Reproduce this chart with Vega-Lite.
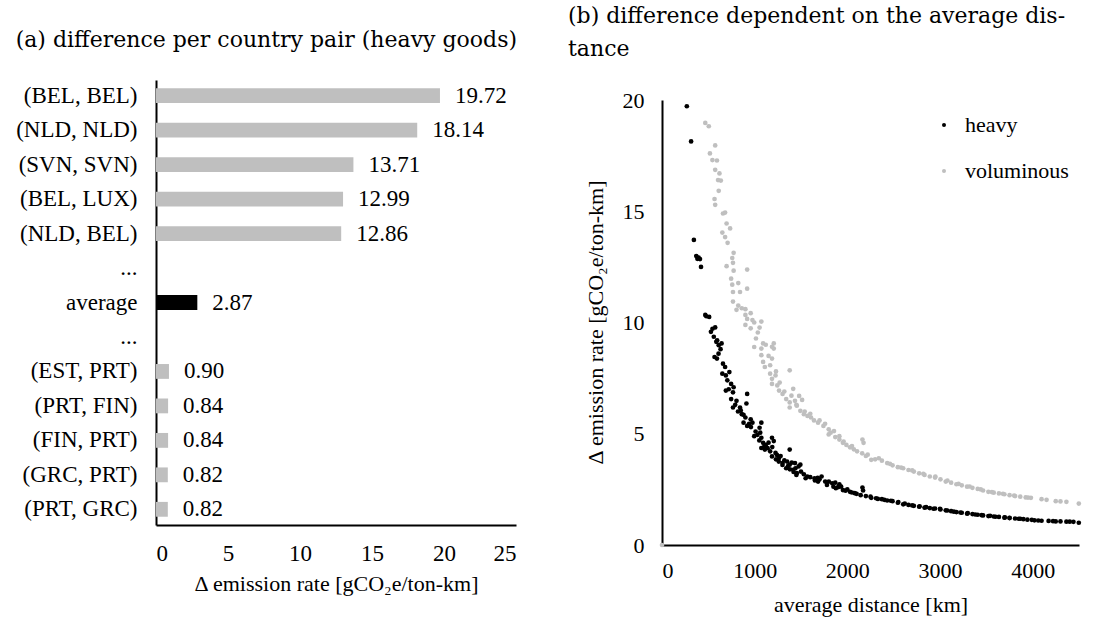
{
  "$schema": "https://vega.github.io/schema/vega-lite/v6.json",
  "padding": {"left": 15, "top": 5, "right": 5, "bottom": 5},
  "background": "white",
  "config": {
    "view": {"stroke": null},
    "font": "Liberation Serif, Times New Roman, serif",
    "axis": {"labelFont": "Liberation Serif, Times New Roman, serif", "titleFont": "Liberation Serif, Times New Roman, serif", "labelFontSize": 22, "titleFontSize": 22, "titleFontWeight": "normal", "labelColor": "black", "titleColor": "black", "domainColor": "black", "domainWidth": 2, "ticks": false, "grid": false},
    "title": {"font": "DejaVu Serif, serif", "fontSize": 22, "fontWeight": "normal", "anchor": "start", "frame": "bounds", "color": "black"},
    "legend": {"labelFont": "Liberation Serif, Times New Roman, serif", "labelFontSize": 22, "labelColor": "black"}
  },
  "resolve": {"scale": {"color": "independent"}, "legend": {"color": "independent"}},
  "datasets": {
    "bars": [
      {"pair": "(BEL, BEL)", "v": 19.72, "k": "pair", "t": "19.72"},
      {"pair": "(NLD, NLD)", "v": 18.14, "k": "pair", "t": "18.14"},
      {"pair": "(SVN, SVN)", "v": 13.71, "k": "pair", "t": "13.71"},
      {"pair": "(BEL, LUX)", "v": 12.99, "k": "pair", "t": "12.99"},
      {"pair": "(NLD, BEL)", "v": 12.86, "k": "pair", "t": "12.86"},
      {"pair": "average", "v": 2.87, "k": "avg", "t": "2.87"},
      {"pair": "(EST, PRT)", "v": 0.90, "k": "pair", "t": "0.90"},
      {"pair": "(PRT, FIN)", "v": 0.84, "k": "pair", "t": "0.84"},
      {"pair": "(FIN, PRT)", "v": 0.84, "k": "pair", "t": "0.84"},
      {"pair": "(GRC, PRT)", "v": 0.82, "k": "pair", "t": "0.82"},
      {"pair": "(PRT, GRC)", "v": 0.82, "k": "pair", "t": "0.82"}
    ],
    "pts": [
      {"d":0,"r":0,"g":"voluminous"},{"d":467,"r":18.97,"g":"voluminous"},{"d":505,"r":18.82,"g":"voluminous"},{"d":574,"r":17.96,"g":"voluminous"},{"d":517,"r":17.6,"g":"voluminous"},{"d":544,"r":17.3,"g":"voluminous"},{"d":593,"r":17.28,"g":"voluminous"},{"d":574,"r":16.86,"g":"voluminous"},
      {"d":620,"r":16.7,"g":"voluminous"},{"d":605,"r":16.4,"g":"voluminous"},{"d":635,"r":16.38,"g":"voluminous"},{"d":612,"r":15.92,"g":"voluminous"},{"d":567,"r":15.55,"g":"voluminous"},{"d":574,"r":15.29,"g":"voluminous"},{"d":658,"r":14.9,"g":"voluminous"},{"d":681,"r":14.94,"g":"voluminous"},
      {"d":697,"r":14.45,"g":"voluminous"},{"d":735,"r":14.23,"g":"voluminous"},{"d":651,"r":14.04,"g":"voluminous"},{"d":681,"r":13.84,"g":"voluminous"},{"d":708,"r":13.58,"g":"voluminous"},{"d":773,"r":13.13,"g":"voluminous"},{"d":758,"r":12.9,"g":"voluminous"},{"d":766,"r":12.68,"g":"voluminous"},
      {"d":697,"r":12.53,"g":"voluminous"},{"d":919,"r":12.38,"g":"voluminous"},{"d":773,"r":12.33,"g":"voluminous"},{"d":746,"r":11.97,"g":"voluminous"},{"d":823,"r":11.77,"g":"voluminous"},{"d":758,"r":11.7,"g":"voluminous"},{"d":919,"r":11.52,"g":"voluminous"},{"d":766,"r":11.37,"g":"voluminous"},
      {"d":842,"r":11.37,"g":"voluminous"},{"d":766,"r":10.94,"g":"voluminous"},{"d":823,"r":10.76,"g":"voluminous"},{"d":861,"r":10.64,"g":"voluminous"},{"d":900,"r":10.6,"g":"voluminous"},{"d":804,"r":10.57,"g":"voluminous"},{"d":900,"r":10.34,"g":"voluminous"},{"d":957,"r":10.42,"g":"voluminous"},
      {"d":919,"r":10.16,"g":"voluminous"},{"d":976,"r":10.11,"g":"voluminous"},{"d":1072,"r":10.04,"g":"voluminous"},{"d":900,"r":9.89,"g":"voluminous"},{"d":957,"r":9.74,"g":"voluminous"},{"d":995,"r":10.0,"g":"voluminous"},{"d":1053,"r":9.77,"g":"voluminous"},{"d":1034,"r":9.55,"g":"voluminous"},
      {"d":1014,"r":9.28,"g":"voluminous"},{"d":995,"r":8.9,"g":"voluminous"},{"d":1072,"r":8.83,"g":"voluminous"},{"d":1206,"r":8.83,"g":"voluminous"},{"d":1091,"r":9.06,"g":"voluminous"},{"d":1187,"r":8.91,"g":"voluminous"},{"d":1206,"r":9.06,"g":"voluminous"},{"d":1072,"r":8.53,"g":"voluminous"},
      {"d":1091,"r":8.23,"g":"voluminous"},{"d":1187,"r":8.38,"g":"voluminous"},{"d":1110,"r":8.0,"g":"voluminous"},{"d":1167,"r":8.08,"g":"voluminous"},{"d":1378,"r":7.85,"g":"voluminous"},{"d":1167,"r":7.7,"g":"voluminous"},{"d":1187,"r":7.47,"g":"voluminous"},{"d":1225,"r":7.62,"g":"voluminous"},
      {"d":1187,"r":7.24,"g":"voluminous"},{"d":1244,"r":7.17,"g":"voluminous"},{"d":1263,"r":6.94,"g":"voluminous"},{"d":1301,"r":6.79,"g":"voluminous"},{"d":1416,"r":7.02,"g":"voluminous"},{"d":1397,"r":6.71,"g":"voluminous"},{"d":1340,"r":6.56,"g":"voluminous"},{"d":1378,"r":6.41,"g":"voluminous"},
      {"d":1435,"r":6.48,"g":"voluminous"},{"d":1512,"r":6.52,"g":"voluminous"},{"d":1378,"r":6.18,"g":"voluminous"},{"d":1455,"r":6.26,"g":"voluminous"},{"d":1493,"r":6.03,"g":"voluminous"},{"d":1531,"r":5.88,"g":"voluminous"},{"d":1570,"r":5.8,"g":"voluminous"},{"d":1608,"r":5.73,"g":"voluminous"},
      {"d":1640,"r":5.6,"g":"voluminous"},{"d":1684,"r":5.5,"g":"voluminous"},{"d":1742,"r":5.35,"g":"voluminous"},{"d":1799,"r":5.2,"g":"voluminous"},{"d":1856,"r":5.12,"g":"voluminous"},{"d":1914,"r":4.89,"g":"voluminous"},{"d":1799,"r":4.97,"g":"voluminous"},{"d":1914,"r":4.74,"g":"voluminous"},
      {"d":1870,"r":4.85,"g":"voluminous"},{"d":2163,"r":4.74,"g":"voluminous"},{"d":2175,"r":4.59,"g":"voluminous"},{"d":1952,"r":4.59,"g":"voluminous"},{"d":1990,"r":4.5,"g":"voluminous"},{"d":2029,"r":4.39,"g":"voluminous"},{"d":2070,"r":4.3,"g":"voluminous"},{"d":2105,"r":4.21,"g":"voluminous"},
      {"d":2160,"r":4.12,"g":"voluminous"},{"d":2220,"r":4.06,"g":"voluminous"},{"d":2258,"r":3.83,"g":"voluminous"},{"d":2300,"r":3.85,"g":"voluminous"},{"d":2373,"r":3.79,"g":"voluminous"},{"d":2430,"r":3.68,"g":"voluminous"},{"d":2488,"r":3.58,"g":"voluminous"},{"d":2545,"r":3.5,"g":"voluminous"},
      {"d":2603,"r":3.45,"g":"voluminous"},{"d":2660,"r":3.37,"g":"voluminous"},{"d":2718,"r":3.3,"g":"voluminous"},{"d":2775,"r":3.22,"g":"voluminous"},{"d":2833,"r":3.15,"g":"voluminous"},{"d":2890,"r":3.08,"g":"voluminous"},{"d":2947,"r":3.03,"g":"voluminous"},{"d":3005,"r":2.95,"g":"voluminous"},
      {"d":3062,"r":2.85,"g":"voluminous"},{"d":3120,"r":2.8,"g":"voluminous"},{"d":3177,"r":2.73,"g":"voluminous"},{"d":3235,"r":2.68,"g":"voluminous"},{"d":3292,"r":2.62,"g":"voluminous"},{"d":3350,"r":2.57,"g":"voluminous"},{"d":3407,"r":2.52,"g":"voluminous"},{"d":3465,"r":2.45,"g":"voluminous"},
      {"d":3522,"r":2.39,"g":"voluminous"},{"d":3580,"r":2.35,"g":"voluminous"},{"d":3636,"r":2.32,"g":"voluminous"},{"d":3695,"r":2.28,"g":"voluminous"},{"d":3751,"r":2.24,"g":"voluminous"},{"d":3810,"r":2.2,"g":"voluminous"},{"d":3866,"r":2.17,"g":"voluminous"},{"d":3925,"r":2.14,"g":"voluminous"},
      {"d":3981,"r":2.12,"g":"voluminous"},{"d":4096,"r":2.06,"g":"voluminous"},{"d":4249,"r":1.97,"g":"voluminous"},{"d":4364,"r":1.94,"g":"voluminous"},{"d":4498,"r":1.86,"g":"voluminous"},
      {"d":1540,"r":6.0,"g":"voluminous"},{"d":1600,"r":5.9,"g":"voluminous"},{"d":1700,"r":5.6,"g":"voluminous"},{"d":1760,"r":5.45,"g":"voluminous"},{"d":1820,"r":5.05,"g":"voluminous"},{"d":1960,"r":4.65,"g":"voluminous"},{"d":2050,"r":4.45,"g":"voluminous"},{"d":2200,"r":4.0,"g":"voluminous"},
      {"d":2340,"r":3.9,"g":"voluminous"},{"d":2460,"r":3.65,"g":"voluminous"},{"d":2580,"r":3.48,"g":"voluminous"},{"d":2700,"r":3.35,"g":"voluminous"},{"d":2820,"r":3.2,"g":"voluminous"},{"d":2950,"r":3.08,"g":"voluminous"},{"d":3080,"r":2.9,"g":"voluminous"},{"d":3200,"r":2.75,"g":"voluminous"},
      {"d":3320,"r":2.63,"g":"voluminous"},{"d":3440,"r":2.5,"g":"voluminous"},{"d":3560,"r":2.38,"g":"voluminous"},{"d":3680,"r":2.3,"g":"voluminous"},{"d":3800,"r":2.22,"g":"voluminous"},{"d":3950,"r":2.13,"g":"voluminous"},{"d":4150,"r":2.03,"g":"voluminous"},{"d":4300,"r":1.96,"g":"voluminous"},
      {"d":1450,"r":6.3,"g":"voluminous"},{"d":1320,"r":6.9,"g":"voluminous"},{"d":1270,"r":7.3,"g":"voluminous"},{"d":1230,"r":7.8,"g":"voluminous"},{"d":1150,"r":8.5,"g":"voluminous"},{"d":1120,"r":9.0,"g":"voluminous"},{"d":1480,"r":6.7,"g":"voluminous"},
      {"d":268,"r":19.72,"g":"heavy"},{"d":314,"r":18.14,"g":"heavy"},{"d":344,"r":13.71,"g":"heavy"},{"d":370,"r":12.99,"g":"heavy"},{"d":382,"r":12.86,"g":"heavy"},{"d":395,"r":12.92,"g":"heavy"},{"d":410,"r":12.85,"g":"heavy"},{"d":421,"r":12.5,"g":"heavy"},
      {"d":467,"r":10.34,"g":"heavy"},{"d":478,"r":10.28,"g":"heavy"},{"d":509,"r":10.25,"g":"heavy"},{"d":528,"r":9.58,"g":"heavy"},{"d":545,"r":9.72,"g":"heavy"},{"d":574,"r":9.78,"g":"heavy"},{"d":559,"r":9.36,"g":"heavy"},{"d":586,"r":9.13,"g":"heavy"},
      {"d":595,"r":9.2,"g":"heavy"},{"d":612,"r":8.98,"g":"heavy"},{"d":632,"r":8.8,"g":"heavy"},{"d":643,"r":9.06,"g":"heavy"},{"d":567,"r":8.45,"g":"heavy"},{"d":593,"r":8.38,"g":"heavy"},{"d":610,"r":8.6,"g":"heavy"},{"d":658,"r":8.15,"g":"heavy"},
      {"d":681,"r":8.0,"g":"heavy"},{"d":651,"r":7.7,"g":"heavy"},{"d":689,"r":7.62,"g":"heavy"},{"d":727,"r":7.77,"g":"heavy"},{"d":705,"r":7.4,"g":"heavy"},{"d":746,"r":7.24,"g":"heavy"},{"d":773,"r":7.09,"g":"heavy"},{"d":689,"r":6.94,"g":"heavy"},
      {"d":720,"r":7.0,"g":"heavy"},{"d":766,"r":6.86,"g":"heavy"},{"d":919,"r":6.79,"g":"heavy"},{"d":746,"r":6.56,"g":"heavy"},{"d":804,"r":6.48,"g":"heavy"},{"d":766,"r":6.18,"g":"heavy"},{"d":790,"r":6.3,"g":"heavy"},{"d":842,"r":6.18,"g":"heavy"},
      {"d":911,"r":6.36,"g":"heavy"},{"d":820,"r":6.0,"g":"heavy"},{"d":850,"r":6.05,"g":"heavy"},{"d":861,"r":5.88,"g":"heavy"},{"d":900,"r":5.73,"g":"heavy"},{"d":880,"r":5.85,"g":"heavy"},{"d":957,"r":5.65,"g":"heavy"},{"d":880,"r":5.5,"g":"heavy"},
      {"d":919,"r":5.35,"g":"heavy"},{"d":976,"r":5.5,"g":"heavy"},{"d":940,"r":5.45,"g":"heavy"},{"d":960,"r":5.3,"g":"heavy"},{"d":1072,"r":5.5,"g":"heavy"},{"d":1053,"r":5.27,"g":"heavy"},{"d":1010,"r":5.1,"g":"heavy"},{"d":995,"r":4.89,"g":"heavy"},
      {"d":1030,"r":4.95,"g":"heavy"},{"d":1060,"r":5.05,"g":"heavy"},{"d":1072,"r":4.82,"g":"heavy"},{"d":1091,"r":4.59,"g":"heavy"},{"d":1187,"r":4.82,"g":"heavy"},{"d":1206,"r":4.67,"g":"heavy"},{"d":1120,"r":4.5,"g":"heavy"},{"d":1150,"r":4.6,"g":"heavy"},
      {"d":1072,"r":4.36,"g":"heavy"},{"d":1110,"r":4.29,"g":"heavy"},{"d":1167,"r":4.21,"g":"heavy"},{"d":1140,"r":4.35,"g":"heavy"},{"d":1190,"r":4.4,"g":"heavy"},{"d":1225,"r":4.14,"g":"heavy"},{"d":1378,"r":4.29,"g":"heavy"},{"d":1187,"r":3.98,"g":"heavy"},
      {"d":1263,"r":3.91,"g":"heavy"},{"d":1240,"r":4.05,"g":"heavy"},{"d":1280,"r":4.0,"g":"heavy"},{"d":1301,"r":3.68,"g":"heavy"},{"d":1320,"r":3.8,"g":"heavy"},{"d":1350,"r":3.75,"g":"heavy"},{"d":1378,"r":3.61,"g":"heavy"},{"d":1400,"r":3.7,"g":"heavy"},
      {"d":1435,"r":3.68,"g":"heavy"},{"d":1493,"r":3.61,"g":"heavy"},{"d":1340,"r":3.45,"g":"heavy"},{"d":1416,"r":3.38,"g":"heavy"},{"d":1474,"r":3.53,"g":"heavy"},{"d":1360,"r":3.55,"g":"heavy"},{"d":1380,"r":3.4,"g":"heavy"},{"d":1455,"r":3.23,"g":"heavy"},
      {"d":1531,"r":3.18,"g":"heavy"},{"d":1500,"r":3.3,"g":"heavy"},{"d":1440,"r":3.45,"g":"heavy"},{"d":1569,"r":3.08,"g":"heavy"},{"d":1600,"r":3.05,"g":"heavy"},{"d":1646,"r":3.0,"g":"heavy"},{"d":1680,"r":3.02,"g":"heavy"},{"d":1722,"r":3.08,"g":"heavy"},
      {"d":1684,"r":2.85,"g":"heavy"},{"d":1700,"r":2.95,"g":"heavy"},{"d":1761,"r":2.85,"g":"heavy"},{"d":1800,"r":2.85,"g":"heavy"},{"d":1837,"r":2.77,"g":"heavy"},{"d":1870,"r":2.8,"g":"heavy"},{"d":1914,"r":2.73,"g":"heavy"},{"d":1933,"r":2.62,"g":"heavy"},
      {"d":1876,"r":2.55,"g":"heavy"},{"d":1900,"r":2.6,"g":"heavy"},{"d":1952,"r":2.47,"g":"heavy"},{"d":2000,"r":2.5,"g":"heavy"},{"d":2029,"r":2.39,"g":"heavy"},{"d":2163,"r":2.58,"g":"heavy"},{"d":2170,"r":2.45,"g":"heavy"},{"d":2080,"r":2.33,"g":"heavy"},
      {"d":2144,"r":2.24,"g":"heavy"},{"d":2200,"r":2.2,"g":"heavy"},{"d":2258,"r":2.12,"g":"heavy"},{"d":2310,"r":2.1,"g":"heavy"},{"d":2373,"r":2.06,"g":"heavy"},{"d":2430,"r":2.0,"g":"heavy"},{"d":2488,"r":1.97,"g":"heavy"},{"d":2545,"r":1.9,"g":"heavy"},
      {"d":2603,"r":1.83,"g":"heavy"},{"d":2660,"r":1.8,"g":"heavy"},{"d":2718,"r":1.76,"g":"heavy"},{"d":2775,"r":1.72,"g":"heavy"},{"d":2833,"r":1.68,"g":"heavy"},{"d":2890,"r":1.66,"g":"heavy"},{"d":2947,"r":1.64,"g":"heavy"},{"d":3005,"r":1.6,"g":"heavy"},
      {"d":3062,"r":1.56,"g":"heavy"},{"d":3120,"r":1.52,"g":"heavy"},{"d":3177,"r":1.48,"g":"heavy"},{"d":3235,"r":1.45,"g":"heavy"},{"d":3292,"r":1.41,"g":"heavy"},{"d":3350,"r":1.39,"g":"heavy"},{"d":3407,"r":1.36,"g":"heavy"},{"d":3465,"r":1.33,"g":"heavy"},
      {"d":3522,"r":1.30,"g":"heavy"},{"d":3580,"r":1.28,"g":"heavy"},{"d":3636,"r":1.26,"g":"heavy"},{"d":3695,"r":1.23,"g":"heavy"},{"d":3751,"r":1.21,"g":"heavy"},{"d":3810,"r":1.19,"g":"heavy"},{"d":3866,"r":1.18,"g":"heavy"},{"d":3943,"r":1.14,"g":"heavy"},
      {"d":3990,"r":1.13,"g":"heavy"},{"d":4019,"r":1.11,"g":"heavy"},{"d":4096,"r":1.09,"g":"heavy"},{"d":4172,"r":1.08,"g":"heavy"},{"d":4249,"r":1.06,"g":"heavy"},{"d":4300,"r":1.06,"g":"heavy"},{"d":4364,"r":1.05,"g":"heavy"},{"d":4498,"r":1.0,"g":"heavy"},
      {"d":2250,"r":2.17,"g":"heavy"},{"d":2400,"r":2.03,"g":"heavy"},{"d":2550,"r":1.93,"g":"heavy"},{"d":2700,"r":1.78,"g":"heavy"},{"d":2850,"r":1.7,"g":"heavy"},{"d":3000,"r":1.62,"g":"heavy"},{"d":3150,"r":1.5,"g":"heavy"},{"d":3300,"r":1.43,"g":"heavy"},
      {"d":3450,"r":1.34,"g":"heavy"},{"d":3600,"r":1.27,"g":"heavy"},{"d":3750,"r":1.22,"g":"heavy"},{"d":3900,"r":1.16,"g":"heavy"},{"d":2100,"r":2.3,"g":"heavy"},{"d":1980,"r":2.44,"g":"heavy"},{"d":2050,"r":2.36,"g":"heavy"},{"d":1850,"r":2.62,"g":"heavy"},
      {"d":1780,"r":2.7,"g":"heavy"},{"d":1650,"r":2.9,"g":"heavy"},{"d":1550,"r":3.0,"g":"heavy"},{"d":1450,"r":3.15,"g":"heavy"},{"d":1420,"r":3.28,"g":"heavy"},{"d":1260,"r":3.75,"g":"heavy"},{"d":1300,"r":3.6,"g":"heavy"},{"d":1230,"r":3.85,"g":"heavy"},
      {"d":1100,"r":4.4,"g":"heavy"},{"d":1050,"r":4.7,"g":"heavy"},{"d":2330,"r":2.07,"g":"heavy"},{"d":2470,"r":1.99,"g":"heavy"},{"d":2620,"r":1.86,"g":"heavy"},{"d":2780,"r":1.74,"g":"heavy"},{"d":2930,"r":1.63,"g":"heavy"},{"d":3080,"r":1.55,"g":"heavy"},
      {"d":3220,"r":1.46,"g":"heavy"},{"d":3380,"r":1.37,"g":"heavy"},{"d":3540,"r":1.31,"g":"heavy"},{"d":3700,"r":1.24,"g":"heavy"},{"d":3850,"r":1.18,"g":"heavy"},{"d":4060,"r":1.1,"g":"heavy"},{"d":4220,"r":1.07,"g":"heavy"},{"d":4400,"r":1.05,"g":"heavy"},{"d":4440,"r":1.04,"g":"heavy"}
    ]
  },
  "hconcat": [
    {
      "title": {"text": "(a) difference per country pair (heavy goods)", "offset": 28},
      "width": 360,
      "height": 445,
      "data": {"name": "bars"},
      "encoding": {
        "y": {"field": "pair", "type": "nominal", "sort": null,
          "scale": {"domain": ["(BEL, BEL)", "(NLD, NLD)", "(SVN, SVN)", "(BEL, LUX)", "(NLD, BEL)", "...", "average", "... ", "(EST, PRT)", "(PRT, FIN)", "(FIN, PRT)", "(GRC, PRT)", "(PRT, GRC)"], "paddingInner": 0.57, "paddingOuter": 0.24},
          "axis": {"title": null, "labelPadding": 19, "labelExpr": "trim(datum.label)", "labelFontSize": 23}},
        "x": {"field": "v", "type": "quantitative", "scale": {"domain": [0, 25], "nice": false},
          "axis": {"values": [0, 5, 10, 15, 20, 25], "labelPadding": 17, "title": "Δ emission rate [gCO₂e/ton-km]", "titlePadding": 8, "labelFontSize": 23}}
      },
      "layer": [
        {"mark": {"type": "bar"},
          "encoding": {"color": {"field": "k", "type": "nominal", "scale": {"domain": ["pair", "avg"], "range": ["#bfbfbf", "#000000"]}, "legend": null}}},
        {"mark": {"type": "text", "align": "left", "baseline": "middle", "dx": 15, "fontSize": 23, "font": "Liberation Serif, Times New Roman, serif", "color": "black"},
          "encoding": {"text": {"field": "t", "type": "nominal"}}}
      ]
    },
    {
      "title": {"text": ["(b) difference dependent on the average dis-", "tance"], "lineHeight": 33, "offset": 19, "dx": -16},
      "width": 417,
      "height": 465,
      "data": {"name": "pts"},
      "mark": {"type": "point", "filled": true, "size": 22, "opacity": 1},
      "encoding": {
        "x": {"field": "d", "type": "quantitative", "scale": {"domain": [0, 4500], "nice": false},
          "axis": {"values": [0, 1000, 2000, 3000, 4000], "format": "d", "labelPadding": 15, "title": "average distance [km]", "titlePadding": 13}},
        "y": {"field": "r", "type": "quantitative", "scale": {"domain": [0, 20], "nice": false, "range": [465, 20]},
          "axis": {"values": [0, 5, 10, 15, 20], "labelPadding": 18, "title": "Δ emission rate [gCO₂e/ton-km]", "titlePadding": 15, "titleY": 242}},
        "color": {"field": "g", "type": "nominal", "scale": {"domain": ["heavy", "voluminous"], "range": ["#000000", "#bfbfbf"]},
          "legend": {"title": null, "orient": "none", "legendX": 271, "legendY": 34, "symbolType": "circle", "symbolSize": 16, "rowPadding": 24, "labelOffset": 10}}
      }
    }
  ],
  "spacing": 50
}
